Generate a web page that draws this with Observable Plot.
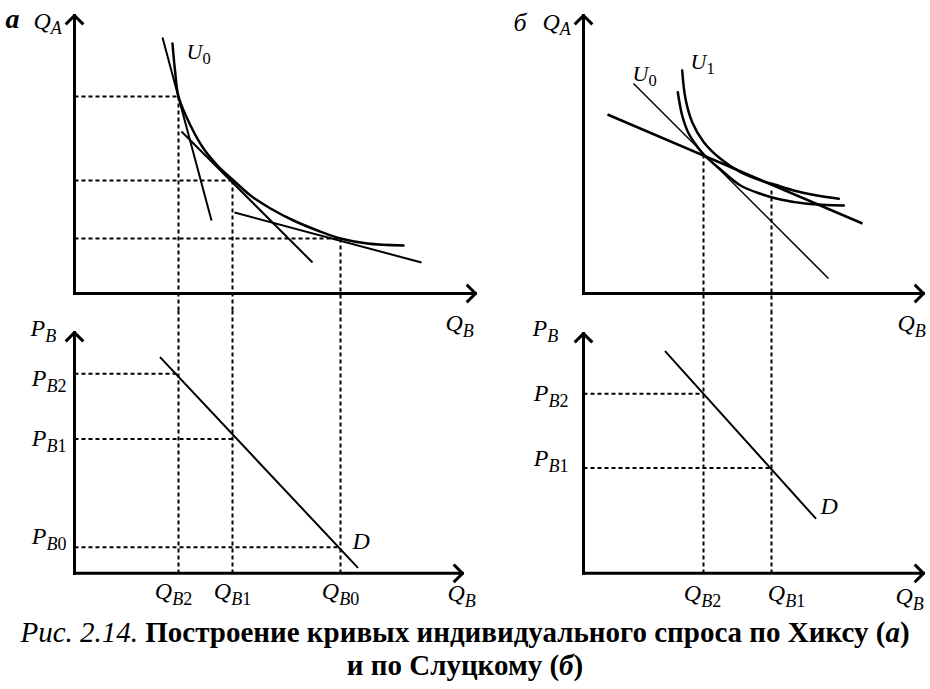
<!DOCTYPE html>
<html><head><meta charset="utf-8">
<script src="https://cdn.jsdelivr.net/npm/d3@7"></script>
<script src="https://cdn.jsdelivr.net/npm/@observablehq/plot@0.6"></script>
<style>
body{margin:0;background:#fff;}
#fig{position:relative;width:930px;height:616px;}
#fig svg{position:absolute;overflow:visible;}
.cap{font-family:"Liberation Serif","LiberationSerif","Tinos","Times New Roman","DejaVu Serif","Noto Serif",serif;font-size:29px;line-height:33px;text-align:center;color:#000;white-space:nowrap;}
</style></head><body>
<div id="fig"></div>
<div class="cap"><span style="font-style:italic">Рис. 2.14.</span> <b>Построение кривых индивидуального спроса по Хиксу (<i>а</i>)</b></div>
<div class="cap"><b>и по Слуцкому (<i>б</i>)</b></div>
<script>
// ===== Panel а (Hicks) — top: indifference curve U0 and three budget lines =====
const aU0_QB = [9.8, 10.05, 10.4, 11.6, 12.9, 14.3, 15.8, 17.6, 19.6, 21.9, 24.3, 26.6, 29.3, 32.9];
const aU0_QA = [25.0, 22.3, 19.7, 16.8, 14.5, 12.8, 11.4, 9.8, 8.5, 7.3, 6.3, 5.5, 5.0, 4.8];
const aBudgetStart_QB = [8.8, 10.7, 16.0];
const aBudgetStart_QA = [25.6, 16.2, 8.1];
const aBudgetEnd_QB = [13.7, 23.8, 34.7];
const aBudgetEnd_QA = [7.3, 3.1, 3.1];
const aTangent_QB = [10.4, 15.8, 26.6];   // QB2, QB1, QB0
const aTangent_QA = [19.7, 11.3, 5.5];
// Panel а — bottom: demand
const aPrice_PB = [19.9, 13.4, 2.6];      // PB2, PB1, PB0
const aDemand_QB = [8.6, 28.3];
const aDemand_PB = [21.5, 0.6];
const aTickLabels = ["Q_B2", "Q_B1", "Q_B0"];
const aTickLabelQB = [9.9, 15.8, 26.6];
const aPriceLabels = ["P_B2", "P_B1", "P_B0"];
const aPriceLabelPB = [18.7, 12.7, 2.9];
const aTopAxisEnd = [40.1, 27.8];
const aBottomAxisEnd = [38.8, 24.0];

// ===== Panel б (Slutsky) — top: U0, U1 and two budget lines =====
const bU0_QB = [9.43, 9.87, 10.53, 11.37, 12.0, 13.7, 15.7, 17.7, 19.7, 22.37, 26.03];
const bU0_QA = [20.13, 17.8, 15.97, 14.7, 13.9, 12.4, 10.8, 9.97, 9.4, 8.97, 8.8];
const bU1_QB = [9.87, 10.2, 10.87, 12.03, 13.7, 15.7, 18.03, 18.87, 21.03, 23.37, 25.53];
const bU1_QA = [22.3, 19.47, 17.13, 15.13, 13.47, 12.13, 11.2, 10.97, 10.3, 9.8, 9.47];
const bBudgetStart_QB = [5.0, 2.4];
const bBudgetStart_QA = [21.0, 17.9];
const bBudgetEnd_QB = [24.5, 27.9];
const bBudgetEnd_QA = [1.5, 7.0];
const bBudgetWidth = [1.5, 2.5];
const bDrop_QB = [12.0, 18.8];            // QB2, QB1
const bDrop_QA = [13.9, 10.3];
// Panel б — bottom: demand
const bPrice_PB = [17.9, 10.5];           // PB2, PB1
const bDemand_QB = [8.2, 23.2];
const bDemand_PB = [22.1, 5.5];
const bTickLabels = ["Q_B2", "Q_B1"];
const bTickLabelQB = [11.9, 20.3];
const bPriceLabels = ["P_B2", "P_B1"];
const bPriceLabelPB = [17.2, 10.7];
const bTopAxisEnd = [34.0, 27.8];
const bBottomAxisEnd = [34.0, 23.9];

// ---- layout (view domains of each panel) ----
const leftX = [-7.4, 41.6], rightX = [-9.3, 34.7];
const topY = [-1.7, 29.3], bottomY = [-4.3, 26.2];
const SERIF = '"Liberation Serif", "LiberationSerif", "Tinos", "Times New Roman", "DejaVu Serif", "Noto Serif", serif';

const rows = (keys, ...arrs) => arrs[0].map((_, i) => Object.fromEntries(keys.map((k, j) => [k, arrs[j][i]])));
const dash = {stroke: "black", strokeWidth: 2, strokeDasharray: "4,3"};
const txt = {fill: "black", fontStyle: "italic", lineAnchor: "bottom", fontFamily: SERIF};

function axes(end) {
  return [
    Plot.arrow([0], {x1: 0, y1: 0, x2: 0, y2: end[1], stroke: "black", strokeWidth: 3, headLength: 5.5, headAngle: 90, strokeLinecap: "square"}),
    Plot.arrow([0], {x1: 0, y1: 0, x2: end[0], y2: 0, stroke: "black", strokeWidth: 3, headLength: 5.5, headAngle: 90, strokeLinecap: "square"})
  ];
}

function subscriptify(svg) {
  const NS = "http://www.w3.org/2000/svg";
  svg.querySelectorAll("text").forEach(t => {
    t.style.fontFamily = SERIF;
    const s = t.textContent;
    if (!s.includes("_")) return;
    const [main, sub] = s.split("_");
    t.textContent = "";
    const m = document.createElementNS(NS, "tspan");
    m.textContent = main;
    t.appendChild(m);
    let first = true;
    for (const ch of sub) {
      const ts = document.createElementNS(NS, "tspan");
      ts.textContent = ch;
      ts.setAttribute("font-size", "0.75em");
      ts.setAttribute("font-style", /[0-9]/.test(ch) ? "normal" : "italic");
      if (first) { ts.setAttribute("dy", "0.33em"); first = false; }
      t.appendChild(ts);
    }
  });
}

const fig = document.getElementById("fig");
function panel(left, top, width, height, xd, yd, marks) {
  const svg = Plot.plot({
    width, height, margin: 0,
    x: {domain: xd, axis: null}, y: {domain: yd, axis: null},
    style: {background: "transparent", fontFamily: SERIF, color: "black", overflow: "visible"},
    marks
  });
  svg.style.left = left + "px";
  svg.style.top = top + "px";
  subscriptify(svg);
  fig.appendChild(svg);
}

// ---------- а, top ----------
const aT = rows(["qb", "qa"], aTangent_QB, aTangent_QA);
panel(0, 0, 490, 310, leftX, topY, [
  Plot.link(aT, {x1: 0, x2: "qb", y1: "qa", y2: "qa", ...dash}),
  Plot.link(aT, {x1: "qb", x2: "qb", y1: "qa", y2: topY[0], ...dash}),
  Plot.link(rows(["x1", "y1", "x2", "y2"], aBudgetStart_QB, aBudgetStart_QA, aBudgetEnd_QB, aBudgetEnd_QA),
    {x1: "x1", y1: "y1", x2: "x2", y2: "y2", stroke: "black", strokeWidth: 2}),
  Plot.line(rows(["qb", "qa"], aU0_QB, aU0_QA), {x: "qb", y: "qa", curve: "catmull-rom", stroke: "black", strokeWidth: 2.5}),
  ...axes(aTopAxisEnd),
  Plot.text(["а"], {x: -6.9, y: 26.6, text: d => d, ...txt, fontWeight: "bold", fontSize: 28, textAnchor: "start"}),
  Plot.text(["Q_A"], {x: -4.1, y: 26.5, text: d => d, ...txt, fontSize: 24, textAnchor: "start"}),
  Plot.text(["U_0"], {x: 11.2, y: 23.5, text: d => d, ...txt, fontSize: 22, textAnchor: "start"})
]);

// ---------- а, bottom ----------
const aP = rows(["qb", "pb"], aTangent_QB, aPrice_PB);
panel(0, 310, 490, 306, leftX, bottomY, [
  Plot.link(aP, {x1: "qb", x2: "qb", y1: bottomY[1], y2: 0, ...dash}),
  Plot.link(aP, {x1: 0, x2: "qb", y1: "pb", y2: "pb", ...dash}),
  Plot.line(rows(["qb", "pb"], aDemand_QB, aDemand_PB), {x: "qb", y: "pb", stroke: "black", strokeWidth: 2}),
  ...axes(aBottomAxisEnd),
  Plot.text(["Q_B"], {x: 37.1, y: 24.2, text: d => d, ...txt, fontSize: 24, textAnchor: "start"}),
  Plot.text(["P_B"], {x: -4.4, y: 23.7, text: d => d, ...txt, fontSize: 24, textAnchor: "start"}),
  Plot.text(rows(["t", "pb"], aPriceLabels, aPriceLabelPB), {x: -0.8, y: "pb", text: "t", ...txt, fontSize: 24, textAnchor: "end"}),
  Plot.text(rows(["t", "qb"], aTickLabels, aTickLabelQB), {x: "qb", y: -2.6, text: "t", ...txt, fontSize: 24, textAnchor: "middle"}),
  Plot.text(["Q_B"], {x: 37.3, y: -2.8, text: d => d, ...txt, fontSize: 24, textAnchor: "start"}),
  Plot.text(["D"], {x: 27.8, y: 2.4, text: d => d, ...txt, fontSize: 24, textAnchor: "start"})
]);

// ---------- б, top ----------
panel(490, 0, 440, 310, rightX, topY, [
  Plot.link(rows(["qb", "qa"], bDrop_QB, bDrop_QA), {x1: "qb", x2: "qb", y1: "qa", y2: topY[0], ...dash}),
  Plot.link(rows(["x1", "y1", "x2", "y2", "w"], bBudgetStart_QB, bBudgetStart_QA, bBudgetEnd_QB, bBudgetEnd_QA, bBudgetWidth),
    {x1: "x1", y1: "y1", x2: "x2", y2: "y2", stroke: "black", strokeWidth: "w"}),
  Plot.line(rows(["qb", "qa"], bU0_QB, bU0_QA), {x: "qb", y: "qa", curve: "catmull-rom", stroke: "black", strokeWidth: 2.5}),
  Plot.line(rows(["qb", "qa"], bU1_QB, bU1_QA), {x: "qb", y: "qa", curve: "catmull-rom", stroke: "black", strokeWidth: 2.5}),
  ...axes(bTopAxisEnd),
  Plot.text(["б"], {x: -7.0, y: 26.3, text: d => d, ...txt, fontSize: 26, textAnchor: "start"}),
  Plot.text(["Q_A"], {x: -4.1, y: 26.4, text: d => d, ...txt, fontSize: 24, textAnchor: "start"}),
  Plot.text(["U_0"], {x: 4.9, y: 21.3, text: d => d, ...txt, fontSize: 22, textAnchor: "start"}),
  Plot.text(["U_1"], {x: 10.7, y: 22.5, text: d => d, ...txt, fontSize: 22, textAnchor: "start"})
]);

// ---------- б, bottom ----------
const bP = rows(["qb", "pb"], bDrop_QB, bPrice_PB);
panel(490, 310, 440, 306, rightX, bottomY, [
  Plot.link(bP, {x1: "qb", x2: "qb", y1: bottomY[1], y2: 0, ...dash}),
  Plot.link(bP, {x1: 0, x2: "qb", y1: "pb", y2: "pb", ...dash}),
  Plot.line(rows(["qb", "pb"], bDemand_QB, bDemand_PB), {x: "qb", y: "pb", stroke: "black", strokeWidth: 2}),
  ...axes(bBottomAxisEnd),
  Plot.text(["Q_B"], {x: 31.4, y: 24.2, text: d => d, ...txt, fontSize: 24, textAnchor: "start"}),
  Plot.text(["P_B"], {x: -5.1, y: 23.7, text: d => d, ...txt, fontSize: 24, textAnchor: "start"}),
  Plot.text(rows(["t", "pb"], bPriceLabels, bPriceLabelPB), {x: -1.5, y: "pb", text: "t", ...txt, fontSize: 24, textAnchor: "end"}),
  Plot.text(rows(["t", "qb"], bTickLabels, bTickLabelQB), {x: "qb", y: -2.8, text: "t", ...txt, fontSize: 24, textAnchor: "middle"}),
  Plot.text(["Q_B"], {x: 31.2, y: -3.1, text: d => d, ...txt, fontSize: 24, textAnchor: "start"}),
  Plot.text(["D"], {x: 23.7, y: 5.9, text: d => d, ...txt, fontSize: 24, textAnchor: "start"})
]);
</script>
</body></html>
